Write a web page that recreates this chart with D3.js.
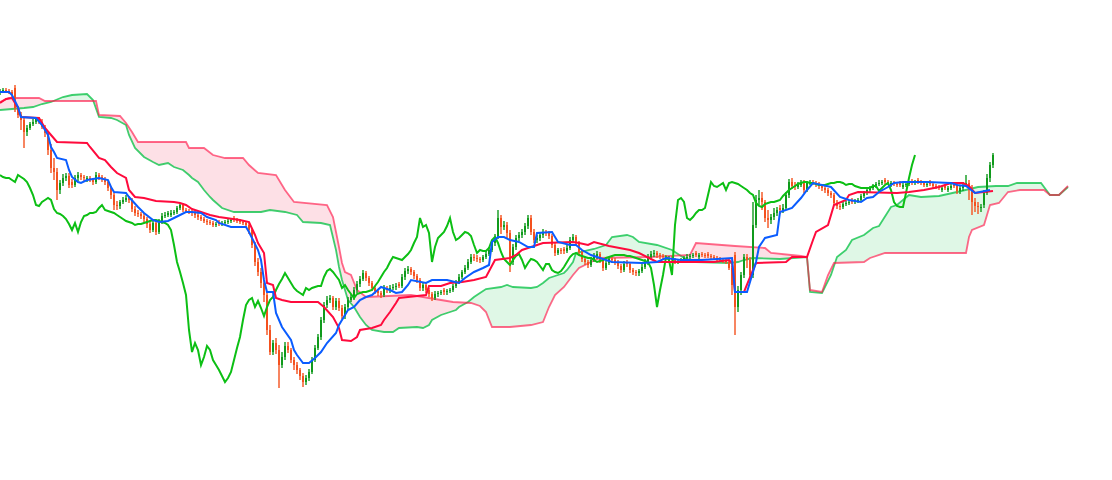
<!DOCTYPE html>
<html><head><meta charset="utf-8">
<script src="https://cdn.jsdelivr.net/npm/d3@7"></script>
<style>html,body{margin:0;padding:0;background:#fff;}svg{display:block;}</style>
</head><body>
<svg id="chart" width="1112" height="480"></svg>
<script>
// ---- OHLC data (price units) ----
const closes = [
409,410,409,408,405,392,385,380,368,372, 376,378,381,378,373,367,350,332,328,310,
317,322,324,315,315,322,325,323,322,322, 320,318,325,323,321,318,312,305,295,294,
298,300,302,300,291,287,286,284,281,276, 270,277,268,278,284,285,287,287,288,292,
295,290,289,288,287,285,283,281,279,278, 277,275,276,276,277,278,279,280,280,279,
278,277,275,270,255,238,228,217,205,170, 148,157,150,135,143,154,150,140,135,130,
124,118,122,128,140,152,163,180,195,200, 202,193,199,192,184,193,200,203,210,216,
221,227,222,217,212,209,207,205,212,210, 212,213,214,214,223,229,231,228,224,220,
212,215,210,206,202,206,207,208,208,209, 210,214,218,223,228,232,238,243,242,241,
240,243,246,250,257,263,282,273,275,267, 238,253,262,265,268,274,282,268,260,262,
265,268,267,264,255,247,250,249,249,252, 260,263,257,248,241,238,235,240,244,246,
240,232,237,241,240,238,234,230,236,236, 230,228,227,229,233,238,243,246,247,245,
244,243,242,242,240,238,239,240,242,243, 244,245,245,245,245,244,244,243,242,241,
240,239,238,232,215,193,210,225,243,240, 225,275,300,302,298,282,280,283,287,290,
290,292,305,318,314,313,315,317,310,317, 318,317,316,314,312,310,307,305,297,294,
293,296,297,298,298,299,300,304,307,310, 312,314,316,317,318,318,317,317,316,315,
315,315,316,317,317,318,318,317,315,316, 316,314,313,312,312,312,312,314,314,309,
312,315,317,310,298,294,293,293,307,322, 335,345];
const opens = [
407,409,410,409,408,412,392,385,380,368, 372,376,378,381,378,373,367,350,332,328,
310,317,322,324,318,315,322,325,323,320, 322,320,318,325,323,321,318,312,305,295,
294,298,300,302,300,291,287,286,284,281, 276,270,277,268,278,284,285,285,287,288,
292,295,290,289,288,287,285,283,281,279, 278,277,275,278,276,277,278,279,282,280,
279,278,277,275,270,255,238,228,217,205, 170,148,157,150,135,143,154,150,140,135,
130,124,118,122,128,140,152,163,180,195, 200,202,193,199,192,184,193,200,203,210,
216,221,227,222,217,212,209,207,205,212, 210,212,213,216,214,223,229,231,228,224,
220,212,215,210,206,202,206,207,210,208, 209,210,214,218,223,228,232,238,243,242,
241,240,243,246,250,257,263,282,273,275, 267,238,253,262,265,268,274,282,268,260,
262,265,268,267,264,255,247,250,251,249, 252,260,263,257,248,241,238,235,240,244,
246,240,232,237,241,240,238,234,230,238, 236,230,228,227,229,233,238,243,246,247,
245,244,243,240,242,240,238,239,240,242, 243,244,247,243,246,245,246,244,243,242,
241,240,239,238,232,245,193,210,225,243, 240,225,275,300,302,298,282,280,283,287,
292,290,292,305,318,314,313,315,317,310, 317,318,317,316,314,312,310,307,305,297,
294,293,296,297,300,298,299,300,304,307, 310,312,314,316,317,320,318,315,317,316,
317,313,315,316,319,317,320,318,317,315, 318,316,314,313,310,314,310,312,316,314,
309,312,315,317,310,298,294,293,295,307, 322,335];
const highs = [
411,412,412,411,410,415,394,388,382,375, 378,381,383,383,381,375,369,356,342,332,
320,326,327,327,321,325,328,327,325,324, 324,322,328,327,325,323,320,314,307,299,
300,303,305,304,302,294,290,288,287,283, 278,279,280,281,287,288,289,290,290,294,
297,297,292,291,290,289,287,285,283,281, 280,279,278,280,279,280,281,282,284,282,
281,280,279,277,272,258,242,232,220,208, 175,160,162,155,148,158,158,152,143,138,
132,127,125,131,143,155,166,183,198,204, 205,204,202,202,195,196,203,206,213,219,
224,230,229,224,219,214,211,209,215,214, 215,216,217,218,226,232,234,233,230,226,
222,217,218,212,208,209,209,210,212,211, 212,216,220,226,230,235,241,246,246,245,
243,245,249,253,260,266,290,285,279,278, 270,256,265,268,271,277,285,285,271,265,
268,271,270,269,266,257,252,252,253,255, 263,266,265,259,250,243,240,243,247,249,
248,242,239,243,243,242,240,236,239,240, 238,232,230,231,236,241,246,249,250,249,
247,246,245,244,244,242,241,242,244,246, 246,247,249,247,248,247,248,246,245,244,
243,242,241,240,234,248,214,228,246,246, 243,298,305,310,308,300,290,286,292,293,
295,296,308,321,322,318,318,320,320,319, 320,320,319,318,316,314,312,309,307,300,
296,298,299,300,302,301,302,306,309,313, 314,316,318,320,320,322,320,319,319,318,
319,317,318,319,321,320,322,320,319,318, 320,318,316,315,314,316,314,316,318,316,
315,318,325,320,315,302,298,296,310,326, 338,347];
const lows = [
405,407,407,406,403,388,382,370,352,364, 370,374,376,376,371,363,345,327,320,300,
306,314,319,312,312,313,319,320,319,318, 318,315,316,320,318,315,309,301,290,290,
291,296,298,297,288,284,283,281,278,272, 267,268,265,266,276,282,283,283,285,286,
290,288,287,286,284,282,280,279,277,275, 275,273,273,274,274,275,276,277,278,277,
276,275,272,266,252,234,224,212,198,165, 145,145,146,112,132,140,147,137,130,126,
120,113,115,119,126,138,150,160,177,192, 197,190,190,189,181,181,190,198,200,207,
213,219,219,214,209,206,204,202,203,207, 207,210,210,212,212,220,226,225,221,217,
209,209,207,203,199,200,203,205,205,205, 207,208,212,216,221,226,230,236,239,238,
237,238,241,244,248,254,261,266,270,262, 228,235,250,259,262,265,271,265,257,257,
259,262,264,261,252,244,245,246,246,247, 250,257,254,245,238,235,232,233,238,241,
237,229,230,235,237,235,231,227,228,233, 227,225,224,224,227,231,235,241,243,242,
241,241,240,238,237,236,236,237,238,240, 241,242,243,241,243,242,242,241,240,239,
238,237,236,230,205,165,188,205,222,232, 220,222,272,295,290,278,272,276,280,284,
286,287,290,302,311,310,311,313,307,308, 315,315,313,311,309,307,304,302,295,291,
290,291,294,295,296,296,297,298,302,305, 308,310,312,314,315,316,315,313,314,313,
313,311,313,314,315,315,316,315,313,313, 314,312,311,310,308,310,308,310,312,306,
306,309,313,300,285,288,286,288,292,305, 318,332];

// ---- Ichimoku lines: [period, price] ----
const tenkan = [[0,408],[3,408],[4,405],[6,393],[7,383],[12,382],[14,375],[16,365],[17,353],[18,348],[19,342],[22,340],[23,330],[24,323],[26,318],[27,317],[29,320],[33,322],[36,320],[37,313],[38,308],[42,307],[43,303],[46,293],[48,287],[51,280],[53,278],[56,279],[58,282],[62,288],[64,288],[67,287],[69,283],[72,280],[73,277],[77,273],[82,273],[83,268],[84,262],[86,250],[87,240],[88,220],[89,208],[91,208],[92,187],[94,173],[97,160],[98,150],[99,145],[101,137],[103,137],[105,142],[107,148],[109,157],[112,167],[113,175],[116,190],[118,193],[120,200],[122,203],[124,205],[127,213],[130,210],[132,207],[134,208],[136,215],[137,220],[142,217],[144,220],[149,220],[153,217],[155,222],[158,228],[161,232],[163,235],[164,258],[166,263],[168,263],[170,260],[173,258],[176,253],[178,253],[179,267],[184,268],[186,258],[190,255],[192,255],[194,250],[197,245],[202,240],[204,238],[214,237],[219,238],[222,242],[227,240],[234,240],[244,242],[245,208],[249,208],[251,228],[252,238],[253,253],[255,262],[259,265],[260,288],[264,292],[267,302],[269,310],[271,317],[277,313],[280,303],[283,300],[287,298],[289,302],[291,303],[293,308],[296,313],[298,317],[301,318],[309,318],[317,317],[319,315],[322,314],[325,307],[330,310]];
const kijun = [[0,397],[2,401],[4,402],[6,392],[7,383],[13,382],[15,372],[17,365],[19,358],[29,357],[30,353],[33,342],[35,340],[37,333],[39,327],[42,322],[43,310],[45,303],[48,302],[52,299],[58,298],[60,297],[62,295],[64,291],[67,288],[70,285],[73,283],[80,280],[83,278],[85,265],[86,257],[88,247],[89,217],[91,215],[92,202],[94,200],[97,198],[106,198],[108,193],[111,183],[113,172],[114,160],[117,159],[119,163],[120,170],[124,172],[127,175],[128,180],[130,188],[132,197],[133,202],[136,203],[142,205],[143,214],[147,214],[150,217],[154,218],[158,220],[162,223],[165,240],[170,242],[172,245],[174,250],[177,253],[181,257],[191,258],[193,257],[196,255],[198,258],[203,254],[210,250],[213,247],[217,241],[219,238],[238,238],[243,240],[244,237],[245,208],[248,208],[251,230],[252,237],[262,238],[264,243],[269,243],[271,260],[272,268],[276,275],[278,295],[282,300],[283,305],[286,308],[299,307],[303,308],[308,310],[313,313],[317,317],[321,317],[323,314],[325,307],[331,309]];
const senkouA = [[0,390],[4,391],[8,392],[11,393],[14,396],[17,398],[21,403],[24,405],[29,406],[31,400],[33,383],[37,382],[39,380],[42,375],[43,365],[45,352],[48,343],[51,338],[53,335],[56,337],[58,333],[61,330],[63,325],[64,322],[66,318],[68,310],[70,303],[71,300],[74,292],[78,288],[83,288],[87,288],[90,290],[95,288],[99,285],[101,278],[107,277],[110,275],[112,250],[113,233],[114,220],[116,200],[118,193],[120,183],[122,175],[124,170],[128,168],[131,168],[133,172],[139,173],[141,172],[143,175],[144,180],[147,185],[149,187],[152,190],[153,193],[156,198],[158,203],[160,207],[162,211],[167,213],[169,215],[171,213],[177,212],[179,213],[181,217],[183,222],[186,225],[188,227],[189,230],[191,238],[192,247],[198,251],[202,255],[204,263],[209,265],[211,263],[213,258],[219,255],[224,250],[228,242],[232,238],[243,237],[246,238],[248,240],[251,242],[260,241],[269,243],[270,208],[274,207],[277,225],[279,243],[282,250],[284,260],[288,265],[291,272],[293,274],[297,293],[299,295],[303,305],[307,303],[313,304],[319,308],[326,313],[332,314],[336,314],[339,317],[347,317],[348,313],[350,305],[353,305],[356,313]];
const senkouB = [[0,398],[3,402],[13,402],[15,399],[32,399],[33,385],[40,384],[42,377],[44,368],[46,358],[62,358],[63,352],[68,352],[71,345],[75,342],[81,342],[83,335],[86,327],[92,325],[95,310],[97,302],[98,298],[109,295],[111,283],[112,268],[113,253],[114,237],[115,228],[117,225],[119,210],[122,203],[137,205],[143,202],[151,198],[157,197],[160,194],[162,188],[164,173],[170,173],[177,175],[181,178],[183,193],[185,205],[188,213],[191,225],[193,232],[197,238],[200,242],[217,243],[230,245],[232,257],[245,254],[255,252],[257,247],[267,244],[269,243],[270,210],[274,208],[276,225],[278,237],[288,238],[290,242],[295,247],[322,247],[323,263],[324,270],[328,275],[330,295],[333,297],[336,308],[340,310],[348,310],[350,305],[353,305],[356,314]];
const CHIKOU_SHIFT = 26;
const FORWARD = 25;

// ---- drawing ----
const W = 1112, H = 480;
const svg = d3.select("#chart");
const x = d3.scaleLinear().domain([0, closes.length - 1 + FORWARD]).range([0, 1068]);
const y = d3.scaleLinear().domain([100, 420]).range([400, 80]);

const defs = svg.append("defs");
const areaTo = (base) => d3.area().x(d => x(d[0])).y0(base).y1(d => y(d[1]));
defs.append("clipPath").attr("id", "aboveA").append("path").attr("d", areaTo(0)(senkouA));
defs.append("clipPath").attr("id", "aboveB").append("path").attr("d", areaTo(0)(senkouB));

// cloud: pink where B above A, green where A above B
svg.append("path").attr("d", areaTo(H)(senkouB)).attr("fill", "#fde0e6").attr("clip-path", "url(#aboveA)");
svg.append("path").attr("d", areaTo(H)(senkouA)).attr("fill", "#dff7e6").attr("clip-path", "url(#aboveB)");

const line = d3.line().x(d => x(d[0])).y(d => y(d[1]));
svg.append("path").attr("d", line(senkouA)).attr("fill", "none").attr("stroke", "#00c040").attr("stroke-width", 1.8).attr("stroke-opacity", 0.75);
svg.append("path").attr("d", line(senkouB)).attr("fill", "none").attr("stroke", "#ff1a4b").attr("stroke-width", 1.8).attr("stroke-opacity", 0.65);

// candles
const UP = "#109a1c", DOWN = "#f4511e";
const idx = d3.range(closes.length);
const g = svg.append("g");
g.selectAll("rect.wick").data(idx).join("rect")
  .attr("x", i => x(i) - 1).attr("width", 2)
  .attr("y", i => y(highs[i])).attr("height", i => Math.max(1, y(lows[i]) - y(highs[i])))
  .attr("fill", i => closes[i] >= opens[i] ? UP : DOWN).attr("opacity", 0.7);
g.selectAll("rect.body").data(idx).join("rect")
  .attr("x", i => x(i) - 1).attr("width", 2)
  .attr("y", i => y(Math.max(opens[i], closes[i])))
  .attr("height", i => Math.max(1, Math.abs(y(opens[i]) - y(closes[i]))))
  .attr("fill", i => closes[i] >= opens[i] ? UP : DOWN);

// chikou: closes plotted CHIKOU_SHIFT periods back
const chikou = closes.map((c, i) => [i - CHIKOU_SHIFT, c]).filter(d => d[0] >= 0);
svg.append("path").attr("d", line(chikou)).attr("fill", "none").attr("stroke", "#0cbf14").attr("stroke-width", 2);
svg.append("path").attr("d", line(kijun)).attr("fill", "none").attr("stroke", "#ff0a3c").attr("stroke-width", 2);
svg.append("path").attr("d", line(tenkan)).attr("fill", "none").attr("stroke", "#0a5cff").attr("stroke-width", 2);
</script>
</body></html>
